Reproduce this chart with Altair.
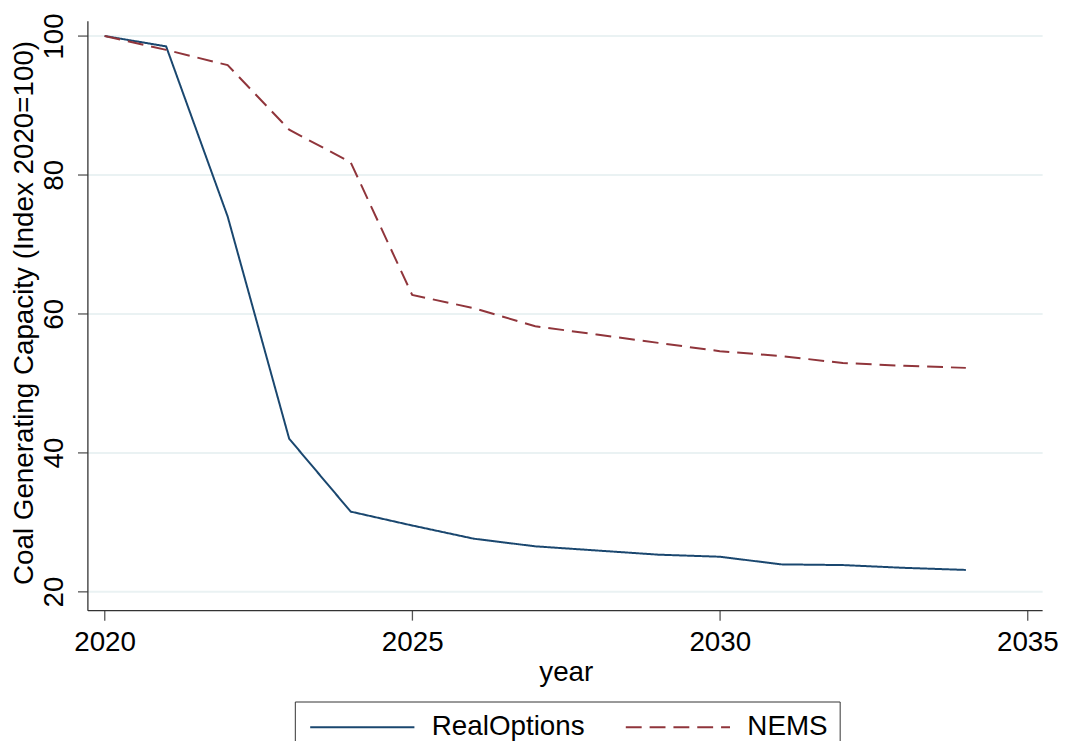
import altair as alt
import pandas as pd

years = list(range(2020, 2035))
real_options = [100, 98.5, 74.0, 42.0, 31.5, 29.5, 27.6, 26.5, 25.9, 25.3, 25.0, 23.9, 23.8, 23.4, 23.1]
nems = [100, 98.0, 95.8, 86.5, 81.8, 62.7, 60.8, 58.2, 57.0, 55.8, 54.6, 53.9, 52.9, 52.5, 52.2]
series_names = ["RealOptions", "NEMS"]
series_colors = ["#1a476f", "#90353b"]
series_dashes = [[1, 0], [16, 8]]
x_ticks = [2020, 2025, 2030, 2035]
y_ticks = [20, 40, 60, 80, 100]

df = pd.DataFrame({
    "year": years * 2,
    "value": real_options + nems,
    "series": [series_names[0]] * len(years) + [series_names[1]] * len(years),
})

FONT = "Liberation Sans"

chart = alt.Chart(df).mark_line(strokeWidth=2).encode(
    x=alt.X(
        "year:Q",
        scale=alt.Scale(domain=[2019.72, 2035.24], nice=False, zero=False),
        axis=alt.Axis(
            values=x_ticks, format="d", title="year", grid=False,
            tickSize=10, labelPadding=9, labelFlush=False,
            titleX=482, titleY=71, titleBaseline="alphabetic", titleAlign="center",
        ),
    ),
    y=alt.Y(
        "value:Q",
        scale=alt.Scale(domain=[17.3, 102.2], nice=False, zero=False),
        axis=alt.Axis(
            values=y_ticks, title="Coal Generating Capacity (Index 2020=100)",
            grid=True, gridColor="#eaf2f3", gridWidth=2,
            tickSize=10, labelAngle=270, labelAlign="center",
            labelBaseline="alphabetic", labelPadding=15,
            titleAngle=270, titleX=-55, titleY=294,
            titleBaseline="alphabetic", titleAlign="center",
        ),
    ),
    color=alt.Color(
        "series:N",
        scale=alt.Scale(domain=series_names, range=series_colors),
        legend=alt.Legend(title=None),
    ),
    strokeDash=alt.StrokeDash(
        "series:N",
        scale=alt.Scale(domain=series_names, range=series_dashes),
        legend=alt.Legend(title=None),
    ),
).properties(
    width=962,
    height=594,
    autosize=alt.AutoSizeParams(type="none"),
    padding={"left": 80, "top": 10, "right": 17, "bottom": 129},
).configure_view(
    stroke=None,
).configure_axis(
    labelFont=FONT, titleFont=FONT, labelFontSize=28, titleFontSize=28,
    labelColor="black", titleColor="black", titleFontWeight="normal",
    domainColor="#333333", domainWidth=1.3, tickColor="#555555", tickWidth=1.3,
).configure_legend(
    orient="none", legendX=209, legendY=686, direction="horizontal",
    symbolType="M-1,0H9", symbolSize=441, symbolStrokeWidth=2,
    labelFont=FONT, labelFontSize=28, labelColor="black", labelOffset=98,
    columnPadding=36, padding=12, strokeColor="#333333", fillColor="white",
    labelLimit=0,
)

chart.save("out.html", embed_options={"renderer": "svg", "actions": False})
